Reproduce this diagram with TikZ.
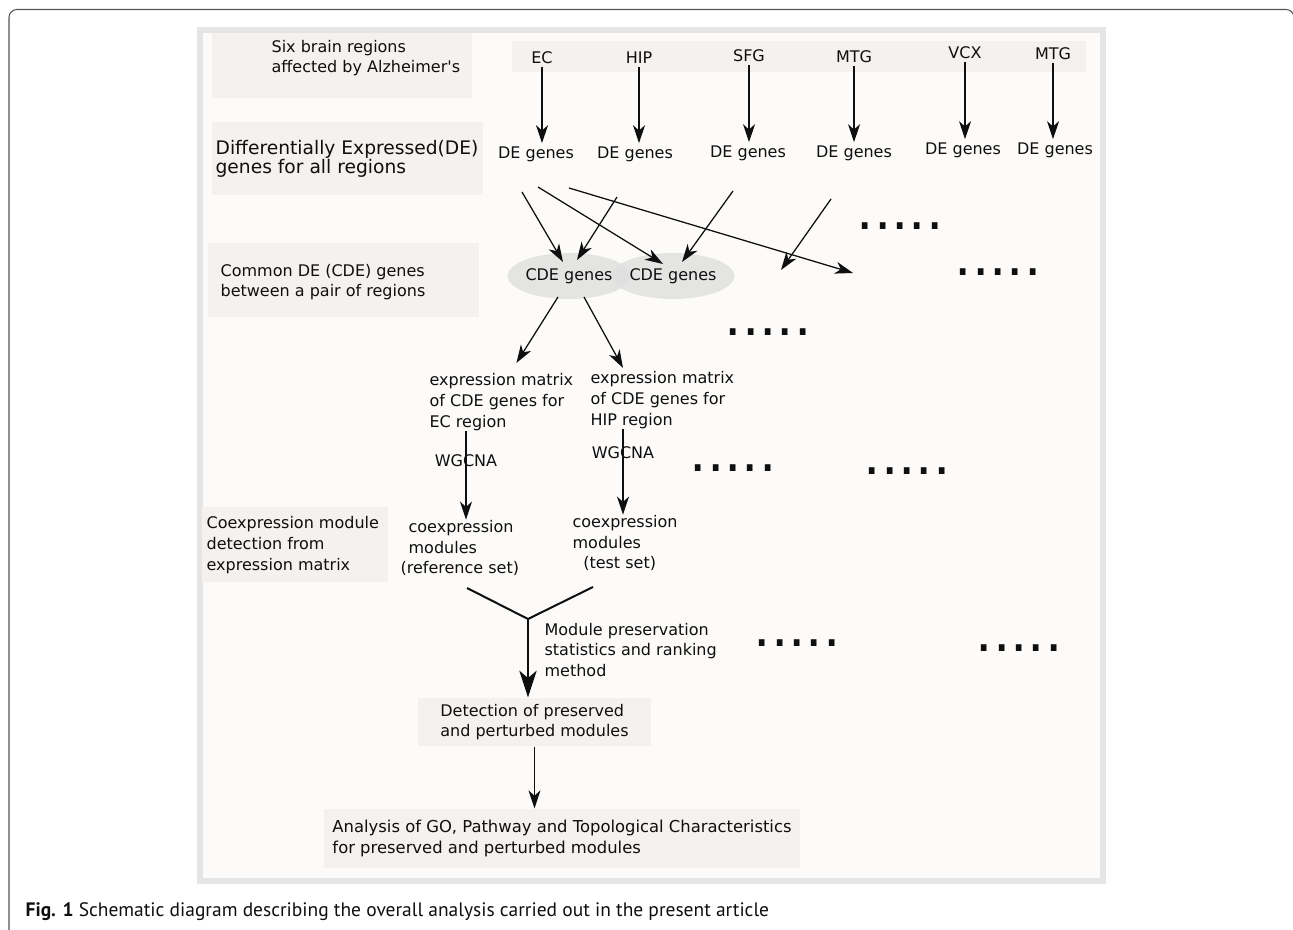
\documentclass[tikz,border=0pt]{standalone}
\usepackage{fontspec}
\setmainfont{DejaVu Sans}
\newfontfamily\capfont{PT Sans}
\usetikzlibrary{arrows.meta, calc, shapes.geometric}
\definecolor{framegray}{RGB}{85, 85, 85}
\definecolor{panelgray}{RGB}{229, 229, 229}
\definecolor{paper}{RGB}{252, 251, 249}
\definecolor{tint}{RGB}{244, 241, 238}
\definecolor{oval}{RGB}{224, 224, 224}
\definecolor{ink}{RGB}{15, 15, 15}

\begin{document}
\begin{tikzpicture}[x=0.75pt, y=-0.75pt, line width=0.95pt, color=ink,
  txt/.style={anchor=west, align=left, inner sep=0pt, font=\fontsize{12}{15.5}\selectfont},
  lbl/.style={inner sep=2pt, font=\fontsize{12}{15}\selectfont},
  box/.style={fill=tint, align=left, inner sep=0pt, font=\fontsize{12}{15.5}\selectfont},
  cde/.style={ellipse, fill=oval, fill opacity=0.85, text opacity=1, minimum width=91.5pt,
              minimum height=34.5pt, inner sep=0pt, font=\fontsize{12}{15}\selectfont},
  dots/.style={anchor=base west, inner sep=0pt, font=\fontsize{41}{41}\selectfont},
  arr/.style={-{Stealth[length=13.5pt, width=9pt, inset=4pt]}},
  bigarr/.style={-{Stealth[length=20pt, width=13pt, inset=5.5pt]}}]
  \useasboundingbox (0,0) rectangle (1293,930);

  \draw[framegray, line width=0.8pt, rounded corners=6pt] (9,945) -- (9,9.5) -- (1294,9.5) -- (1294,945);
  \fill[panelgray] (197,27) rectangle (1106,884);
  \fill[paper] (203,33) rectangle (1100,878);

  \fill[tint] (212,33) rectangle (472,98);
  \fill[tint] (512,41) rectangle (1086,72);
  \fill[tint] (212,122) rectangle (483,195);
  \fill[tint] (208,243) rectangle (479,317);
  \fill[tint] (202,507) rectangle (388,582);

  \node[txt] (six) at (271,58) {Six brain regions\\affected by Alzheimer\textquotesingle s};
  \node[txt, font=\fontsize{14}{13.5}\selectfont] (dif) at (215,159) {Differentially Expressed(DE)\\genes for all regions};
  \node[txt] (com) at (220,282) {Common DE (CDE) genes\\between a pair of regions};
  \node[txt] (cox) at (206,545) {Coexpression module\\detection from\\expression matrix};

  \node[lbl] (ec) at (542,58) {EC};
  \node[lbl] (hip) at (639,58) {HIP};
  \node[lbl] (sfg) at (749,56) {SFG};
  \node[lbl] (mtg) at (854,57) {MTG};
  \node[lbl] (vcx) at (965,53) {VCX};
  \node[lbl] (mtgb) at (1053,54) {MTG};

  \node[lbl] (deec) at (536,154) {DE genes};
  \node[lbl] (dehip) at (635,154) {DE genes};
  \node[lbl] (desfg) at (748,153) {DE genes};
  \node[lbl] (demtg) at (854,153) {DE genes};
  \node[lbl] (devcx) at (963,150) {DE genes};
  \node[lbl] (demtgb) at (1055,150) {DE genes};

  \draw[arr] (ec.south) -- (ec.south |- deec.north);
  \draw[arr] (hip.south) -- (hip.south |- dehip.north);
  \draw[arr] (sfg.south) -- (sfg.south |- desfg.north);
  \draw[arr] (mtg.south) -- (mtg.south |- demtg.north);
  \draw[arr] (vcx.south) -- (vcx.south |- devcx.north);
  \draw[arr] (mtgb.south) -- (mtgb.south |- demtgb.north);

  \node[cde] (cdea) at (569,276) {CDE genes};
  \node[cde, minimum width=90pt] (cdeb) at (673,276) {CDE genes};
  \coordinate (fanend) at (853,273);
  \coordinate (mtgend) at (781,270);

  \draw[arr] ($(deec)+(-14,38)$) -- ($(cdea)+(-6,-14)$);
  \draw[arr] ($(deec)+(2,33)$) -- ($(cdeb)+(-10,-12)$);
  \draw[arr] ($(deec)+(33,34)$) -- (fanend);
  \draw[arr] ($(dehip)+(-18,43)$) -- ($(cdea)+(8,-16)$);
  \draw[arr] ($(desfg)+(-15,38)$) -- ($(cdeb)+(9,-14)$);
  \draw[arr] ($(demtg)+(-23,46)$) -- (mtgend);

  \node[txt] (emea) at (429,402) {expression matrix\\of CDE genes for\\EC region};
  \node[txt] (emhip) at (590,400) {expression matrix\\of CDE genes for\\HIP region};
  \draw[arr] ($(cdea)+(-11,21)$) -- ($(emea.north)+(15,-10)$);
  \draw[arr] ($(cdea)+(15,21)$) -- ($(emhip.north west)+(33,-3)$);

  \node[lbl, inner sep=0pt] (wga) at (466,461) {WGCNA};
  \node[lbl, inner sep=0pt] (wgb) at (623,453) {WGCNA};
  \node[txt] (cma) at (400,548) {\hspace*{6pt}coexpression\\\hspace*{6pt}modules\\(reference set)};
  \node[txt] (cmb) at (572,543) {coexpression\\modules\\\hspace*{8pt}(test set)};
  \draw[arr] (emea.south -| wga) -- (cma.north -| wga);
  \draw[arr] (emhip.south -| wgb) -- (cmb.north -| wgb);

  \node[box, minimum width=174.75pt, minimum height=36pt] (det) at (534.5,722) {Detection of preserved\\and perturbed modules};
  \node[box, minimum width=357pt, minimum height=44.25pt, font=\fontsize{12.3}{15.5}\selectfont] (ana) at (562,838.5) {Analysis of GO, Pathway and Topological Characteristics\\for preserved and perturbed modules};
  \node[txt] (mps) at (544,650) {Module preservation\\statistics and ranking\\method};

  \coordinate (ya) at (467,588);
  \coordinate (yb) at (593,587);
  \coordinate (yj) at (528,619);
  \draw[line width=1.5pt] (ya) -- (yj) -- (yb);
  \draw[line width=1.5pt, bigarr] (yj) -- (yj |- det.north);
  \draw[arr, line width=0.75pt] (det.south) -- (det.south |- ana.north);

  \node[dots] (dta) at (856,230) {.....};
  \node[dots] (dtb) at (954,276) {.....};
  \node[dots] (dtc) at (724,336) {.....};
  \node[dots] (dtd) at (689,472) {.....};
  \node[dots] (dte) at (863,475) {.....};
  \node[dots] (dtf) at (753,646) {.....};
  \node[dots] (dtg) at (975,651) {.....};

  \node[anchor=west, inner sep=0pt, font=\capfont\fontsize{14.6}{17}\selectfont] (cap) at (25,912)
    {\textbf{Fig. 1} Schematic diagram describing the overall analysis carried out in the present article};
\end{tikzpicture}
\end{document}
